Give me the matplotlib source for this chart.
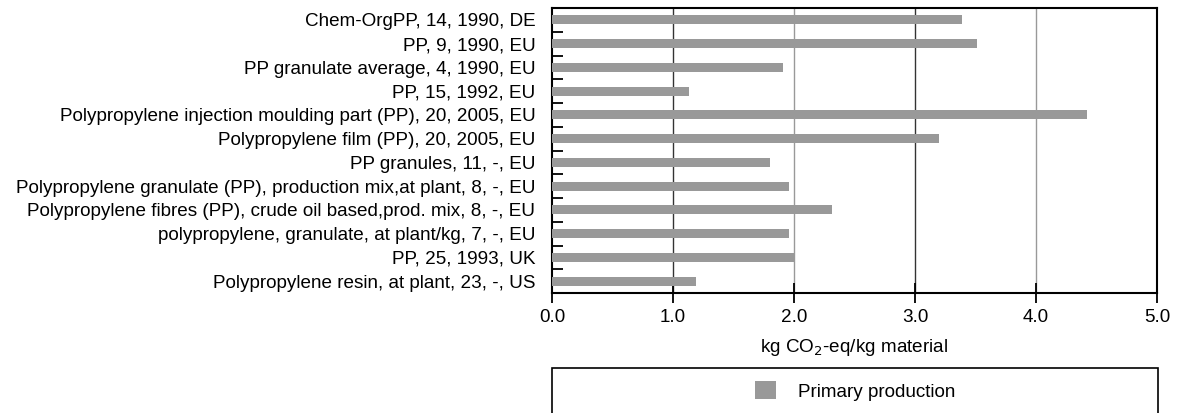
import matplotlib
matplotlib.use("Agg")
import matplotlib.pyplot as plt
from matplotlib.patches import Rectangle, Patch
import numpy as np

plt.rcParams['font.family'] = ['Liberation Sans', 'DejaVu Sans']

categories = [
    "Chem-OrgPP, 14, 1990, DE",
    "PP, 9, 1990, EU",
    "PP granulate average, 4, 1990, EU",
    "PP, 15, 1992, EU",
    "Polypropylene injection moulding part (PP), 20, 2005, EU",
    "Polypropylene film (PP), 20, 2005, EU",
    "PP granules, 11, -, EU",
    "Polypropylene granulate (PP), production mix,at plant, 8, -, EU",
    "Polypropylene fibres (PP), crude oil based,prod. mix, 8, -, EU",
    "polypropylene, granulate, at plant/kg, 7, -, EU",
    "PP, 25, 1993, UK",
    "Polypropylene resin, at plant, 23, -, US",
]
values = [3.39, 3.51, 1.91, 1.135, 4.42, 3.20, 1.80, 1.96, 2.31, 1.96, 2.00, 1.19]
xticks = [0.0, 1.0, 2.0, 3.0, 4.0, 5.0]
xlabels = ["0.0", "1.0", "2.0", "3.0", "4.0", "5.0"]
series_name = "Primary production"

FS = 13.6
W, H = 1184, 413
fig = plt.figure(figsize=(W / 100, H / 100), dpi=100)
ax = fig.add_axes([552 / W, 1 - 293 / H, (1157 - 552) / W, (293 - 8) / H])

y = np.arange(len(categories))
ax.barh(y, values, height=0.38, color="#999999", zorder=3)
ax.set_ylim(len(categories) - 0.5, -0.5)
ax.set_xlim(0, 5)

# gridlines
grid_colors = ["#333333", "#999999", "#333333", "#999999"]
for xv, c in zip(xticks[1:-1], grid_colors):
    ax.axvline(xv, color=c, lw=1.0, zorder=1)

ax.set_yticks(y)
ax.set_yticklabels(categories, fontsize=FS)
ax.tick_params(axis='y', which='major', length=0, pad=12)
ax.set_yticks(np.arange(len(categories) - 1) + 0.5, minor=True)
ax.tick_params(axis='y', which='minor', direction='in', length=8, width=1.3, color='black')

ax.set_xticks(xticks)
ax.set_xticklabels(xlabels, fontsize=FS)
ax.tick_params(axis='x', direction='inout', length=15, width=1.3, pad=4)
ax.set_xlabel("kg CO$_2$-eq/kg material", fontsize=FS, labelpad=8)

for s in ax.spines.values():
    s.set_linewidth(1.5)
    s.set_color('black')

# legend box
rect = Rectangle((552 / W, -0.05), (1158 - 552) / W, 1 - 368 / H + 0.05,
                 transform=fig.transFigure, fill=False, edgecolor='black', lw=1.2)
fig.patches.append(rect)
fig.legend(handles=[Patch(facecolor="#999999", label=series_name)],
           loc='center', bbox_to_anchor=(855 / W, 1 - 391 / H),
           frameon=False, fontsize=FS, handlelength=1.1, handleheight=1.06,
           handletextpad=1.16)

fig.savefig("out.png", dpi=100)
